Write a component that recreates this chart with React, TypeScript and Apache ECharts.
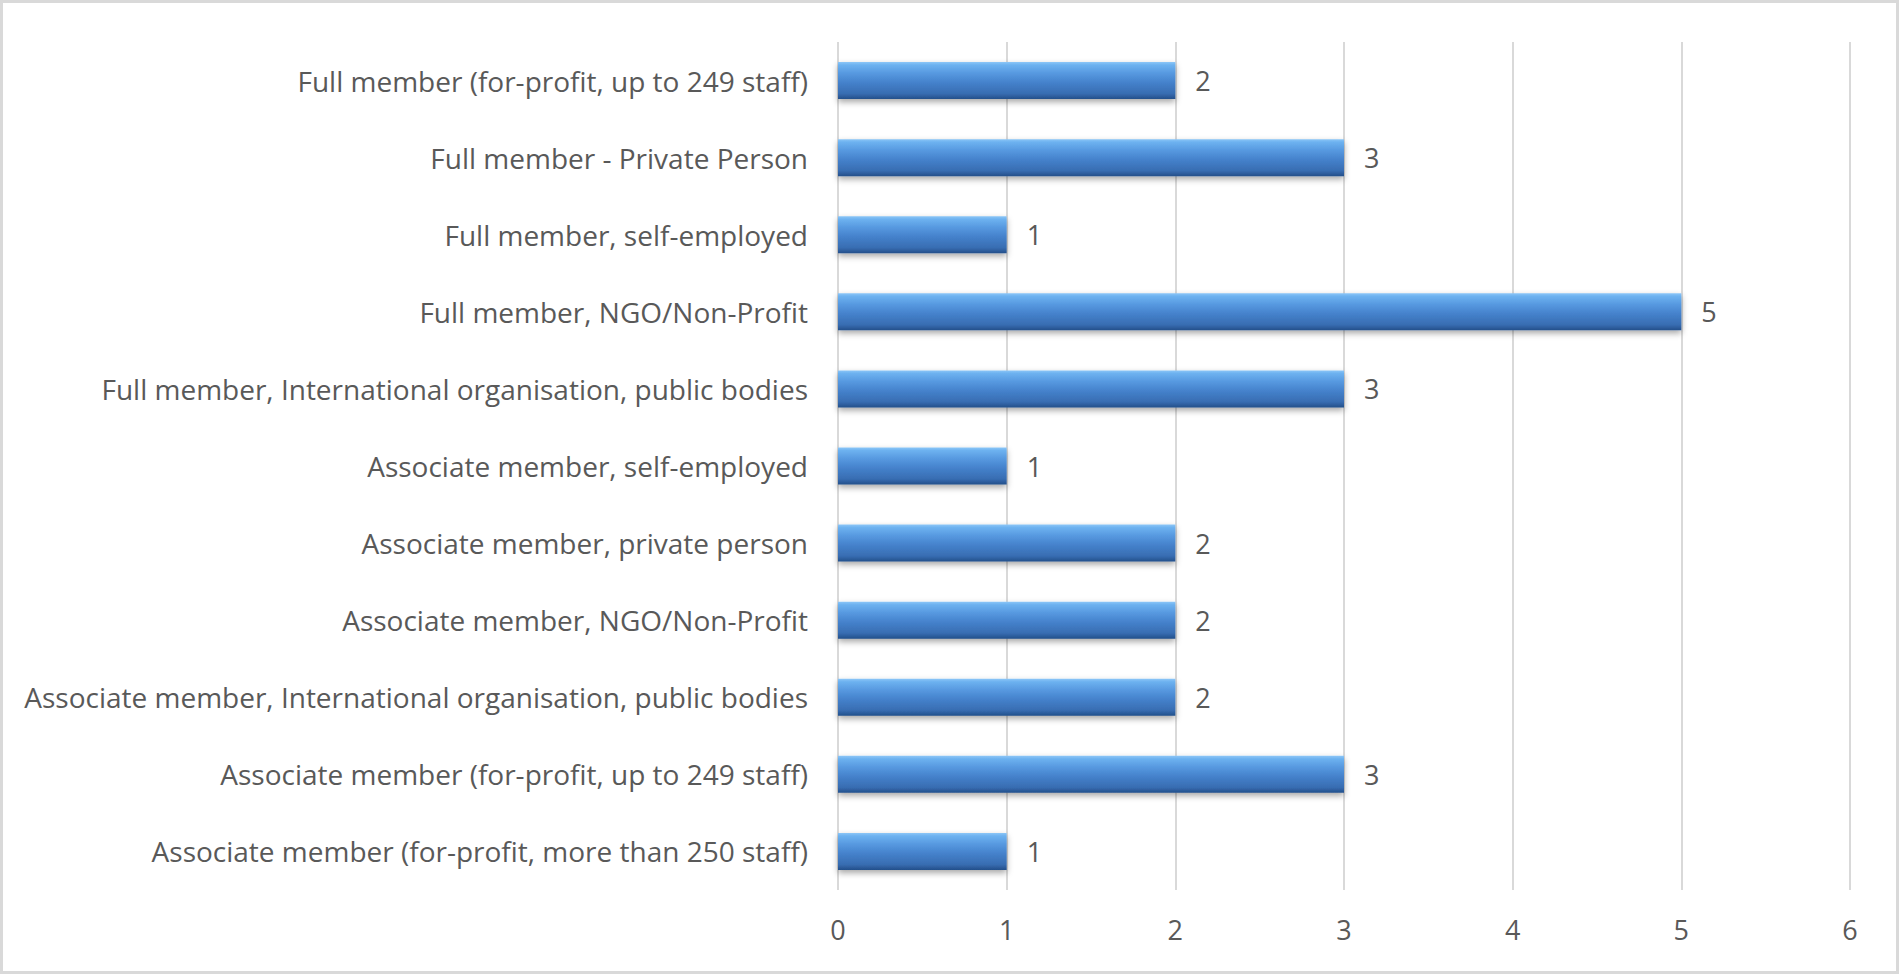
import React, { useEffect, useRef } from "react";
import * as echarts from "echarts";

const categories = [
  "Full member (for-profit, up to 249 staff)",
  "Full member - Private Person",
  "Full member, self-employed",
  "Full member, NGO/Non-Profit",
  "Full member, International organisation, public bodies",
  "Associate member, self-employed",
  "Associate member, private person",
  "Associate member, NGO/Non-Profit",
  "Associate member, International organisation, public bodies",
  "Associate member (for-profit, up to 249 staff)",
  "Associate member (for-profit, more than 250 staff)",
];
const values = [2, 3, 1, 5, 3, 1, 2, 2, 2, 3, 1];
const xTicks = { min: 0, max: 6, interval: 1 };

const FONT = "Open Sans";
const TEXT = "#595959";

export default function App() {
  const ref = useRef<HTMLDivElement>(null);
  useEffect(() => {
    if (!ref.current) return;
    const chart = echarts.init(ref.current, undefined, { renderer: "svg" });
    chart.setOption({
      animation: false,
      backgroundColor: "#ffffff",
      graphic: [
        {
          type: "rect",
          shape: { x: 1.5, y: 1.5, width: 1896, height: 971 },
          style: { fill: "none", stroke: "#d9d9d9", lineWidth: 3 },
          z: 100,
        },
      ],
      grid: { left: 838, right: 49, top: 42, bottom: 84, containLabel: false },
      xAxis: {
        type: "value",
        min: xTicks.min,
        max: xTicks.max,
        interval: xTicks.interval,
        axisLine: { show: false },
        axisTick: { show: false },
        splitLine: { show: true, lineStyle: { color: "#d9d9d9", width: 2 } },
        axisLabel: { color: TEXT, fontFamily: FONT, fontSize: 27, margin: 26 },
      },
      yAxis: {
        type: "category",
        data: categories,
        inverse: true,
        axisLine: { show: false },
        axisTick: { show: false },
        splitLine: { show: false },
        axisLabel: { color: TEXT, fontFamily: FONT, fontSize: 28, margin: 30 },
      },
      series: [
        {
          type: "bar",
          data: values,
          barCategoryGap: "52%",
          itemStyle: {
            color: new echarts.graphic.LinearGradient(0, 0, 0, 1, [
              { offset: 0, color: "#8cc6f7" },
              { offset: 0.08, color: "#6db2f0" },
              { offset: 0.3, color: "#5799e0" },
              { offset: 0.55, color: "#4582cc" },
              { offset: 0.85, color: "#386db2" },
              { offset: 1, color: "#234f8a" },
            ]),
            shadowColor: "rgba(0,0,0,0.35)",
            shadowBlur: 6,
            shadowOffsetY: 3,
          },
          label: {
            show: true,
            position: "right",
            distance: 20,
            color: TEXT,
            fontFamily: FONT,
            fontSize: 27,
          },
        },
      ],
    });
    return () => chart.dispose();
  }, []);
  return (
    <div
      ref={ref}
      style={{ position: "fixed", left: 0, top: 0, width: 1899, height: 974 }}
    />
  );
}
